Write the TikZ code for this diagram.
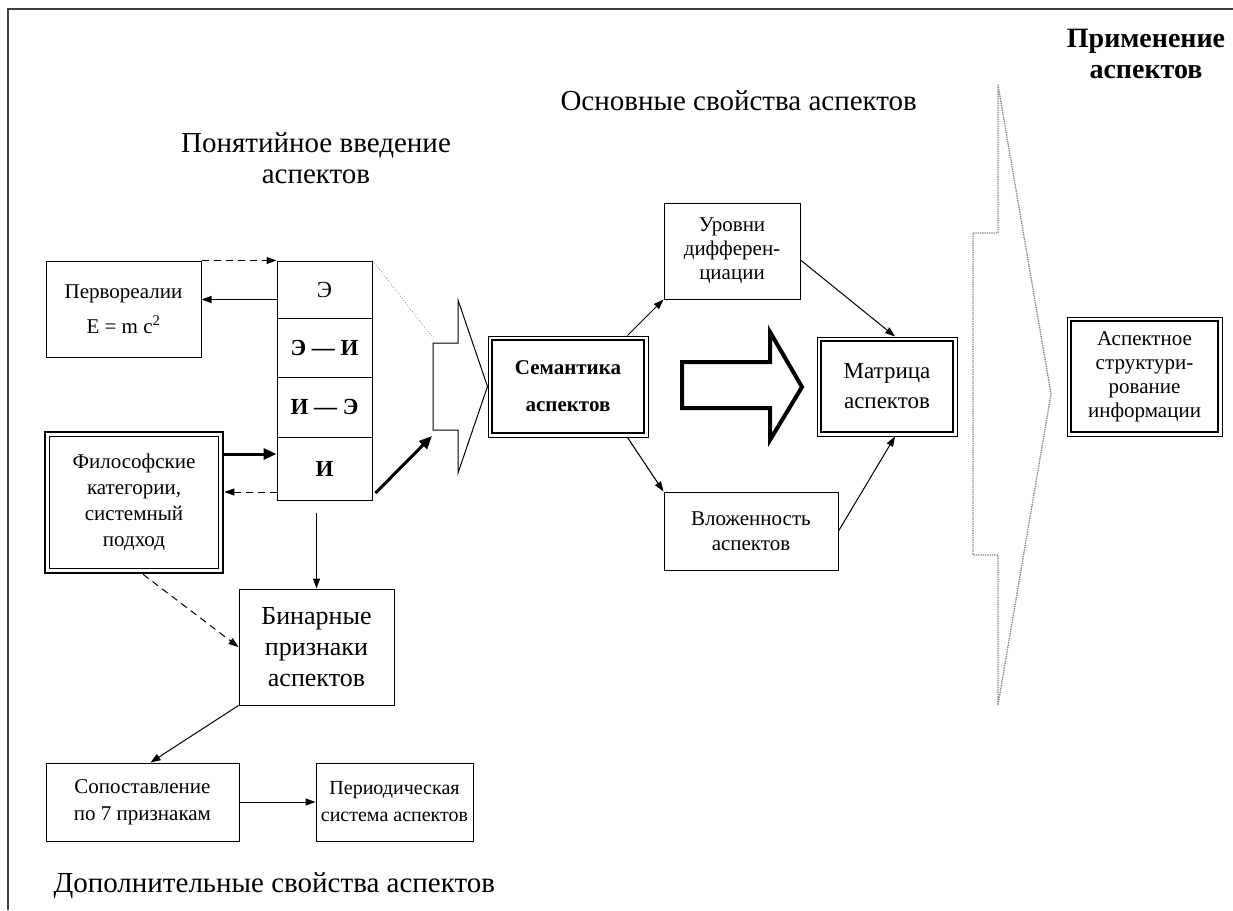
\documentclass[tikz,border=0pt]{standalone}
\usepackage{fontspec}
\setmainfont{Liberation Serif}
\usetikzlibrary{arrows.meta}

\tikzset{
  box/.style={draw, line width=1pt, align=center, inner sep=2pt,
    font=\fontsize{21}{25}\selectfont},
  cell/.style={box, minimum width=95pt, font=\bfseries\fontsize{23}{25}\selectfont},
  title/.style={align=center, font=\fontsize{29}{31}\selectfont},
  frame/.style={line width=2.6pt},
  hollow/.style={draw, line width=1pt, fill=white},
  dashline/.style={dash pattern=on 7pt off 5pt},
  bigtip/.style={line width=3pt, -{Triangle[length=13pt,width=11pt]}},
}

\begin{document}
\begin{tikzpicture}[x=1pt, y=-1pt, >={Triangle[length=10pt,width=7pt]}]
  \useasboundingbox (0,0) rectangle (1233,910);
  \draw[line width=1.5pt, black!75] (8,910) -- (8,9) -- (1233,9);
  % titles
  \draw
    (316,158) node[title] (tintro){Понятийное введение\\аспектов}
    (557,110) node[title, anchor=base west] (tmain){Основные свойства аспектов}
    (1146,54) node[title, font=\bfseries\fontsize{28}{31}\selectfont] (tuse){Применение\\аспектов}
    (50,892) node[title, anchor=base west] (textra){Дополнительные свойства аспектов};
  % aspect column
  \draw
    (324.5,289.5) node[cell, minimum height=57pt, font=\fontsize{23}{25}\selectfont] (e){Э}
    (324.5,347.5) node[cell, minimum height=59pt] (ei){Э — И}
    (324.5,407) node[cell, minimum height=60pt] (ie){И — Э}
    (324.5,468.5) node[cell, minimum height=63pt] (i){И};
  % boxes
  \draw
    (123.5,309) node[box, minimum width=155pt, minimum height=96pt, font=\fontsize{21}{35}\selectfont] (prim){Первореалии\\E = m c\textsuperscript{2}}
    (134,502.5) node[box, line width=2.6pt, minimum width=178pt, minimum height=141pt, font=\fontsize{21}{26}\selectfont] (phil){Философские\\категории,\\системный\\подход}
    (316.5,647) node[box, minimum width=155pt, minimum height=116pt, font=\fontsize{26}{31}\selectfont] (bin){Бинарные\\признаки\\аспектов}
    (142.5,802) node[box, minimum width=193pt, minimum height=78pt, font=\fontsize{21}{27}\selectfont] (comp){Сопоставление\\по 7 признакам}
    (394.5,802) node[box, minimum width=157pt, minimum height=78pt, font=\fontsize{20}{27}\selectfont] (per){Периодическая\\система аспектов}
    (568,386.5) node[box, minimum width=160pt, minimum height=101pt, font=\bfseries\fontsize{21}{37}\selectfont] (sem){Семантика\\аспектов}
    (732,251) node[box, minimum width=136pt, minimum height=96pt, font=\fontsize{21}{24}\selectfont] (lev){Уровни\\дифферен-\\циации}
    (751,531) node[box, minimum width=174pt, minimum height=78pt] (nest){Вложенность\\аспектов}
    (887,386.5) node[box, minimum width=140pt, minimum height=99pt, font=\fontsize{23}{30}\selectfont] (matr){Матрица\\аспектов}
    (1144.5,376.5) node[box, minimum width=155pt, minimum height=119pt, font=\fontsize{21}{24}\selectfont] (appl){Аспектное\\структури-\\рование\\информации};
  % double frames
  \foreach \n in {sem, matr, appl}
    \draw[frame] ([shift={(4.5,4.5)}]\n.north west) rectangle ([shift={(-4.5,-4.5)}]\n.south east);
  \draw[line width=1pt] ([shift={(6,6)}]phil.north west) rectangle ([shift={(-6,-6)}]phil.south east);
  % hollow arrows
  \coordinate (tail) at (432,436);
  \draw[gray, dotted, line width=0.8pt] (e.north east) -- (433,338);
  \draw[hollow] (433,343) -- (458,343) -- (458,300) -- (sem.west) -- (458,473) -- (458,430) -- (433,430) -- cycle;
  \draw[hollow, line width=4pt, line join=miter] (682,362) -- (770,362) -- (770,332) -- (802,387) -- (770,440) -- (770,408) -- (682,408) -- cycle;
  \draw[gray, densely dotted, line width=1.3pt, line join=round] (973,233) -- (998,233) -- (998,85) -- (1051,394) -- (998,705) -- (998,555) -- (973,555) -- cycle;
  % connectors
  \begin{scope}[->, line width=1pt]
    \draw[dashline] (prim.north east) to (e.north west);
    \draw ([yshift=-10pt]e.west) to ([yshift=-10pt]e.west -| prim.east);
    \draw[bigtip] ([yshift=14.5pt]i.west -| phil.east) to ([yshift=14.5pt]i.west);
    \draw[dashline] ([yshift=-23.5pt]i.west) to ([yshift=-23.5pt]i.west -| phil.east);
    \draw[bigtip] ([shift={(3,24.5)}]i.east) to (tail);
    \draw ([yshift=-12pt]i.south -| bin.north) to (bin.north);
    \draw[dashline] ([xshift=9pt]phil.south) to (bin.west);
    \draw (bin.south west) to ([xshift=8pt]comp.north);
    \draw (comp.east) to (per.west);
    \draw ([xshift=-21pt]sem.north east) to (lev.south west);
    \draw ([xshift=-21pt]sem.south east) to (nest.north west);
    \draw ([yshift=-9pt]lev.east) to ([xshift=8pt]matr.north);
    \draw (nest.east) to ([xshift=8pt]matr.south);
  \end{scope}
\end{tikzpicture}
\end{document}
